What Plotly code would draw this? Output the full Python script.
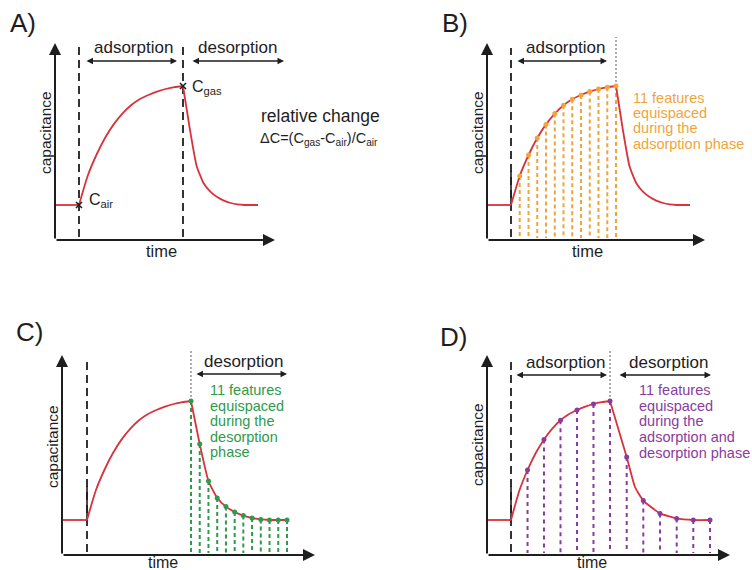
import plotly.graph_objects as go

W, H = 752, 570
S = 20.0  # pixels per data unit (time and capacitance, arbitrary units)

# ---- data (arbitrary units) ----
baseline = 1.75
# adsorption phase: fraction of phase elapsed -> capacitance
ads_frac = [0, 0.083, 0.167, 0.25, 0.333, 0.417, 0.5, 0.583, 0.667, 0.75, 0.833, 0.917, 1.0]
ads_cap = [1.75, 3.2, 4.25, 5.1, 5.78, 6.32, 6.74, 7.04, 7.25, 7.42, 7.55, 7.64, 7.7]
# desorption phase
des_frac = [0, 0.091, 0.182, 0.273, 0.364, 0.455, 0.545, 0.636, 0.727, 0.818, 0.909, 1.0]
des_cap = [7.7, 5.55, 3.7, 2.85, 2.42, 2.15, 1.97, 1.85, 1.78, 1.75, 1.75, 1.75]
# desorption as drawn in panel D
d_des_frac = [0, 0.167, 0.25, 0.333, 0.5, 0.667, 0.833, 1.0]
d_des_cap = [7.7, 4.9, 3.4, 2.72, 2.08, 1.83, 1.75, 1.75]

# features (indices into the arrays above)
b_feat_ads = [1, 2, 3, 4, 5, 6, 7, 8, 9, 10, 11, 12]
c_feat_des = [0, 1, 2, 3, 4, 5, 6, 7, 8, 9, 10, 11]
d_feat_ads = [2, 4, 6, 8, 10, 12]
d_feat_des = [1, 3, 4, 5, 6, 7]

RED = "#d8323c"
ORANGE = "#f0a53a"
GREEN = "#2f9a4c"
PURPLE = "#8a3c9c"
GRAY = "#8c8c8c"
INK = "#1e1e1e"
FONT = "Liberation Sans, Arial, sans-serif"

panels = [
    dict(name="A", sfx="", origin=(55, 240), box=(0, 0, 376, 276),
         t_on=1.2, t_peak=6.4, t_end=10.15, xlen=11.0, ylen=9.85, des="shared"),
    dict(name="B", sfx="2", origin=(487, 240), box=(376, 0, 752, 276),
         t_on=1.2, t_peak=6.45, t_end=10.15, xlen=10.9, ylen=9.85, des="shared"),
    dict(name="C", sfx="3", origin=(62, 555), box=(0, 284, 376, 570),
         t_on=1.25, t_peak=6.45, t_end=11.25, xlen=12.65, ylen=10.0, des="shared"),
    dict(name="D", sfx="4", origin=(487, 555), box=(376, 284, 752, 570),
         t_on=1.2, t_peak=6.15, t_end=11.15, xlen=12.15, ylen=10.0, des="d"),
]

fig = go.Figure()
annotations = []


def ptxt(text, px, py, size, color=INK, xanchor="center", yanchor="middle", angle=0):
    annotations.append(dict(text=text, x=px / W, y=1 - py / H, xref="paper", yref="paper",
                            xanchor=xanchor, yanchor=yanchor, showarrow=False, textangle=angle,
                            font=dict(family=FONT, size=size, color=color)))


def arrow(sfx, x0, y0, x1, y1, double=False, width=1.3, size=1.0):
    a = dict(text="", x=x1, y=y1, ax=x0, ay=y0, xref="x" + sfx, yref="y" + sfx,
             axref="x" + sfx, ayref="y" + sfx, showarrow=True, arrowhead=2,
             arrowsize=size, arrowwidth=width, arrowcolor=INK, standoff=0, startstandoff=0)
    if double:
        a.update(arrowside="end+start", startarrowhead=2, startarrowsize=size)
    annotations.append(a)


def vline(sfx, x, y0, y1, color, dash, width):
    fig.add_trace(go.Scatter(x=[x, x], y=[y0, y1], mode="lines", xaxis="x" + sfx, yaxis="y" + sfx,
                             line=dict(color=color, dash=dash, width=width), hoverinfo="skip"))


for p in panels:
    sfx = p["sfx"]
    ox, oy = p["origin"]
    l, t, r, b = p["box"]
    fig.update_layout(**{
        "xaxis" + sfx: dict(domain=[l / W, r / W], range=[(l - ox) / S, (r - ox) / S],
                            visible=False, anchor="y" + sfx, fixedrange=True),
        "yaxis" + sfx: dict(domain=[1 - b / H, 1 - t / H], range=[(oy - b) / S, (oy - t) / S],
                            visible=False, anchor="x" + sfx, fixedrange=True),
    })
    ton, tpk, tend = p["t_on"], p["t_peak"], p["t_end"]
    ax_x = [ton + u * (tpk - ton) for u in ads_frac]
    if p["des"] == "d":
        dfrac, dcap = d_des_frac, d_des_cap
    else:
        dfrac, dcap = des_frac, des_cap
    dx = [tpk + u * (tend - tpk) for u in dfrac]

    # phase marker lines
    name = p["name"]
    if name == "A":
        vline(sfx, ton, 0.15, 9.75, INK, "8px,5px", 1.8)
        vline(sfx, tpk, 0.15, 9.75, INK, "8px,5px", 1.8)
    else:
        top = 9.6 if name == "B" else 9.75
        vline(sfx, ton, 0.15, top, INK, "8px,5px", 1.8)
        vline(sfx, ton, baseline, baseline + 1.7, INK, "solid", 1.6)
        peak_y = ads_cap[-1]
        vline(sfx, tpk, peak_y, p["ylen"] + 0.3, GRAY, "2px,2px", 1.4)

    # feature dotted lines and dots
    feats = []
    if name == "B":
        feats = [(ax_x[i], ads_cap[i]) for i in b_feat_ads]
        fcol, fdash = ORANGE, "4px,3px"
    elif name == "C":
        feats = [(dx[i], dcap[i]) for i in c_feat_des]
        fcol, fdash = GREEN, "4px,3px"
    elif name == "D":
        feats = [(ax_x[i], ads_cap[i]) for i in d_feat_ads] + [(dx[i], dcap[i]) for i in d_feat_des]
        fcol, fdash = PURPLE, "4px,4px"
    if feats:
        xs, ys = [], []
        for fx, fy in feats:
            xs += [fx, fx, None]
            ys += [fy, 0.1, None]
        fig.add_trace(go.Scatter(x=xs, y=ys, mode="lines", xaxis="x" + sfx, yaxis="y" + sfx,
                                 line=dict(color=fcol, dash=fdash, width=2), hoverinfo="skip"))

    # the response curve
    fig.add_trace(go.Scatter(x=[0, ton], y=[baseline, baseline], mode="lines",
                             xaxis="x" + sfx, yaxis="y" + sfx, line=dict(color=RED, width=1.8)))
    fig.add_trace(go.Scatter(x=ax_x, y=ads_cap, mode="lines", xaxis="x" + sfx, yaxis="y" + sfx,
                             line=dict(color=RED, width=1.8, shape="spline", smoothing=0.5)))
    fig.add_trace(go.Scatter(x=dx, y=dcap, mode="lines", xaxis="x" + sfx, yaxis="y" + sfx,
                             line=dict(color=RED, width=1.8, shape="spline", smoothing=0.5)))
    if feats:
        fig.add_trace(go.Scatter(x=[f[0] for f in feats], y=[f[1] for f in feats], mode="markers",
                                 xaxis="x" + sfx, yaxis="y" + sfx,
                                 marker=dict(color=fcol, size=5)))
    if name == "A":
        fig.add_trace(go.Scatter(x=[ton, tpk], y=[baseline, ads_cap[-1]], mode="markers",
                                 xaxis="x" + sfx, yaxis="y" + sfx,
                                 marker=dict(symbol="x-thin", size=6, line=dict(color=INK, width=1.5))))

    # axes with arrow heads
    arrow(sfx, 0, 0, 0, p["ylen"], width=2.0, size=1.2)
    arrow(sfx, 0, 0, p["xlen"], 0, width=2.0, size=1.2)

# phase arrows (data coords)
arrow("", 1.5, 8.95, 6.1, 8.95, double=True)
arrow("", 6.8, 8.95, 11.45, 8.95, double=True)
arrow("2", 1.45, 8.95, 6.0, 8.95, double=True)
arrow("3", 6.65, 9.05, 11.25, 9.05, double=True)
arrow("4", 1.4, 9.0, 6.0, 9.0, double=True)
arrow("4", 6.55, 9.0, 11.2, 9.0, double=True)

# ---- texts ----
for lab, x, y in [("A)", 8, 23), ("B)", 440, 23), ("C)", 14, 332), ("D)", 438, 337)]:
    ptxt(lab, x, y, 26, xanchor="left")
# panel A
ptxt("adsorption", 133, 47, 17)
ptxt("desorption", 237, 47, 17)
ptxt("C<sub>air</sub>", 87, 200, 16, xanchor="left")
ptxt("C<sub>gas</sub>", 190, 87, 16, xanchor="left")
ptxt("relative change", 259, 116, 17.5, xanchor="left")
ptxt("ΔC=(C<sub>gas</sub>-C<sub>air</sub>)/C<sub>air</sub>", 258, 139, 14.5, xanchor="left")
ptxt("capacitance", 45, 133, 15.5, angle=-90)
ptxt("time", 161, 251, 16.5)
# panel B
ptxt("adsorption", 565, 47, 17)
for i, line in enumerate(["11 features", "equispaced", "during the", "adsorption phase"]):
    ptxt(line, 631, 98 + i * 15.2, 14.5, color=ORANGE, xanchor="left")
ptxt("capacitance", 477, 133, 15.5, angle=-90)
ptxt("time", 587, 251, 16.5)
# panel C
ptxt("desorption", 243, 361, 17)
for i, line in enumerate(["11 features", "equispaced", "during the", "desorption", "phase"]):
    ptxt(line, 208, 390 + i * 15.5, 14.5, color=GREEN, xanchor="left")
ptxt("capacitance", 52, 447, 15.5, angle=-90)
ptxt("time", 163, 562, 16)
# panel D
ptxt("adsorption", 565, 362, 17)
ptxt("desorption", 668, 362, 17)
for i, line in enumerate(["11 features", "equispaced", "during the", "adsorption and", "desorption phase"]):
    ptxt(line, 637, 390 + i * 15.7, 14.5, color=PURPLE, xanchor="left")
ptxt("capacitance", 477, 445, 15.5, angle=-90)
ptxt("time", 592, 562, 16)

fig.update_layout(width=W, height=H, margin=dict(l=0, r=0, t=0, b=0),
                  paper_bgcolor="white", plot_bgcolor="rgba(0,0,0,0)",
                  showlegend=False, annotations=annotations,
                  font=dict(family=FONT, color=INK))
fig.write_html("out.html")
